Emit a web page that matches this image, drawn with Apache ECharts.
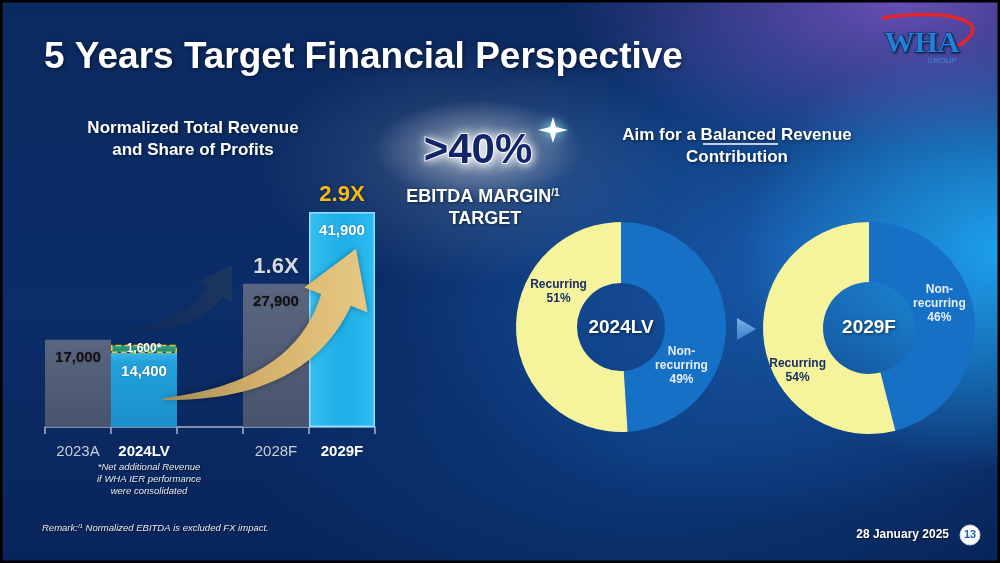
<!DOCTYPE html>
<html><head><meta charset="utf-8">
<script src="https://cdn.jsdelivr.net/npm/echarts/dist/echarts.min.js"></script>
<style>
html,body{margin:0;padding:0;background:#000;}
#wrap{position:relative;width:1000px;height:563px;overflow:hidden;
background:
 radial-gradient(ellipse 105px 50px at 478px 150px, rgba(220,226,232,0.8) 0%, rgba(160,172,190,0.4) 55%, rgba(100,120,150,0) 100%),
 radial-gradient(ellipse 210px 120px at 470px 165px, rgba(120,140,170,0.35), rgba(0,0,0,0) 100%),
 radial-gradient(ellipse 340px 150px at 900px 0px, rgba(120,85,195,0.85), rgba(0,0,0,0) 100%),
 radial-gradient(ellipse 260px 220px at 1000px 250px, rgba(30,165,240,0.95), rgba(0,0,0,0) 100%),
 radial-gradient(ellipse 420px 260px at 800px 260px, rgba(30,110,200,0.7), rgba(0,0,0,0) 100%),
 radial-gradient(ellipse 400px 200px at 650px 450px, rgba(15,75,150,0.5), rgba(0,0,0,0) 100%),
 linear-gradient(180deg, #0b2a60 0%, #0b2d68 55%, #08255a 100%);
}
#chart{width:1000px;height:563px;}
</style></head>
<body><div id="wrap"><div id="chart"></div></div>
<script>
// ---------- data ----------
const categories = ['2023A', '2024LV', '', '2028F', '2029F'];
const baseRevenue = [17000, 14400, null, 27900, 41900];
const additionalRevenue = [null, 1600, null, null, null];
const growthLabels = ['', '', '', '1.6X', '2.9X'];
const pieNames = ['Non-recurring', 'Recurring'];
const pieLabelText = ['Non-\nrecurring', 'Recurring'];
const mix2024LV = [49, 51];
const mix2029F = [46, 54];

// ---------- styles ----------
const FONT = "'Liberation Sans', Arial, sans-serif";
const greyBar = {color: {type:'linear',x:0,y:0,x2:0,y2:1,colorStops:[{offset:0,color:'rgba(98,108,130,0.92)'},{offset:1,color:'rgba(78,88,110,0.92)'}]}};
const cyanBar = {color: {type:'linear',x:0,y:0,x2:0,y2:1,colorStops:[{offset:0,color:'#3db5e8'},{offset:0.12,color:'#22a2dc'},{offset:1,color:'#1b8fcc'}]}};
const brightBar = {color: {type:'linear',x:0,y:0,x2:1,y2:0,colorStops:[{offset:0,color:'#33bff0'},{offset:0.5,color:'#1eaee8'},{offset:1,color:'#2cbcf0'}]}, borderColor:'#8fe0ff', borderWidth:1.5};
const barItemStyles = [greyBar, cyanBar, {}, greyBar, brightBar];
const barLabelColors = ['#111', '#fff', '#fff', '#111', '#fff'];
const growthColors = ['#fff','#fff','#fff','#d3d8e2','#f7b916'];
const pieColors = ['#1570c6', '#f5f39c'];
const pieLabelColors = ['#e6eef9', '#1b2d66'];

const fmt = v => Number(v).toLocaleString('en-US');

const baseData = baseRevenue.map((v,i) => v == null ? '-' : ({
  value: v, itemStyle: barItemStyles[i], label: {color: barLabelColors[i]}
}));
const addData = additionalRevenue.map(v => v == null ? '-' : ({
  value: v,
  itemStyle: {color: {type:'linear',x:0,y:0,x2:0,y2:1,colorStops:[{offset:0,color:'#2aa38a'},{offset:1,color:'#1a8572'}]},
    borderColor:'#f2c41c', borderType:'dashed', borderWidth:1.5}
}));
const growthData = baseRevenue.map((v,i) => growthLabels[i] ? ({value:v, label:{color:growthColors[i]}}) : '-');

// ---------- arrows (decoration) ----------
function curvedArrow(p0, p1, p2, w0, w1, headLen, headHalf) {
  const L = [], R = [], N = 40;
  for (let i = 0; i <= N; i++) {
    const t = i / N;
    const bx = (1-t)*(1-t)*p0[0] + 2*(1-t)*t*p1[0] + t*t*p2[0];
    const by = (1-t)*(1-t)*p0[1] + 2*(1-t)*t*p1[1] + t*t*p2[1];
    let dx = 2*(1-t)*(p1[0]-p0[0]) + 2*t*(p2[0]-p1[0]);
    let dy = 2*(1-t)*(p1[1]-p0[1]) + 2*t*(p2[1]-p1[1]);
    const l = Math.hypot(dx, dy); dx /= l; dy /= l;
    const w = w0 + (w1 - w0) * Math.pow(t, 0.9);
    L.push([bx - dy*w, by + dx*w]);
    R.push([bx + dy*w, by - dx*w]);
  }
  let dx = p2[0]-p1[0], dy = p2[1]-p1[1];
  const l = Math.hypot(dx, dy); dx /= l; dy /= l;
  const tip = [p2[0] + dx*headLen, p2[1] + dy*headLen];
  const hl = [p2[0] - dy*headHalf, p2[1] + dx*headHalf];
  const hr = [p2[0] + dy*headHalf, p2[1] - dx*headHalf];
  return L.concat([hl, tip, hr]).concat(R.reverse());
}
const goldArrow = curvedArrow([163,399],[300,392],[336,300],0.8,16,55,34);
const darkArrow = curvedArrow([112,330],[190,331],[215,292],0.6,9,32,20);

function txt(text, x, y, opts) {
  const o = Object.assign({fontSize:17, fontWeight:'bold', fill:'#fff', align:'center', vAlign:'middle', italic:false}, opts||{});
  return {
    type:'text', z: o.z || 60,
    style: {
      text, x, y, fill:o.fill,
      font: (o.italic?'italic ':'') + o.fontWeight + ' ' + o.fontSize + 'px ' + (o.family||FONT),
      align:o.align, textAlign:o.align, verticalAlign:o.vAlign, textVerticalAlign:o.vAlign,
      lineHeight:o.lineHeight,
      textShadowColor:o.shadow||'rgba(0,0,0,0.55)', textShadowBlur:o.shadowBlur!=null?o.shadowBlur:3,
      textShadowOffsetX:1, textShadowOffsetY:1,
      stroke:o.stroke, lineWidth:o.lineWidth, rich:o.rich
    }
  };
}

const chart = echarts.init(document.getElementById('chart'), null, {renderer:'canvas'});
chart.setOption({
  backgroundColor:'transparent',
  animation:false,
  textStyle:{fontFamily:FONT},
  grid:{left:45, right:625, top:196, bottom:136},
  xAxis:{
    type:'category', data:categories,
    axisLine:{lineStyle:{color:'#a9b3c6', width:1.5}},
    axisTick:{show:true, length:7, lineStyle:{color:'#a9b3c6', width:1.5}},
    axisLabel:{margin:17, interval:0,
      formatter:(v,i)=> (i===1||i===4) ? '{b|'+v+'}' : '{n|'+v+'}',
      rich:{ b:{color:'#fff', fontWeight:'bold', fontSize:15, fontFamily:FONT},
             n:{color:'#c9ced8', fontSize:15, fontFamily:FONT} }}
  },
  yAxis:{type:'value', min:0, max:45000, show:false, splitLine:{show:false}},
  series:[
    {type:'bar', name:'Revenue', stack:'rev', data:baseData, barCategoryGap:'0%', barGap:'-100%', z:3,
      label:{show:true, position:'insideTop', distance:11, fontSize:15, fontWeight:'bold', formatter:p=>fmt(p.value),
        textShadowColor:'rgba(0,0,0,0.35)', textShadowBlur:2}},
    {type:'bar', name:'Additional', stack:'rev', data:addData, barCategoryGap:'0%', barGap:'-100%', z:3,
      label:{show:true, position:'inside', fontSize:12, fontWeight:'bold', color:'#fff', formatter:p=>fmt(p.value)+'*',
        textShadowColor:'rgba(0,0,0,0.4)', textShadowBlur:2}},
    {type:'bar', name:'Growth', data:growthData, barCategoryGap:'0%', barGap:'-100%', z:2, silent:true,
      itemStyle:{color:'rgba(0,0,0,0)'},
      label:{show:true, position:'top', distance:6, fontSize:22, fontWeight:'bold',
        formatter:p=>growthLabels[p.dataIndex], textShadowColor:'rgba(0,0,0,0.5)', textShadowBlur:3}
    },
    {type:'pie', center:[621,327], radius:[44,105], startAngle:90, clockwise:true, silent:true,
      data:pieNames.map((n,i)=>({name:n, value:mix2024LV[i], itemStyle:{color:pieColors[i]}, label:{color:pieLabelColors[i]}})),
      label:{show:true, position:'inside', fontSize:12, fontWeight:'bold', lineHeight:14, align:'center',
        formatter:p=>pieLabelText[p.dataIndex]+'\n'+p.value+'%'},
      labelLine:{show:false},
      labelLayout:p=>[{dx:-17,dy:41},{dx:15,dy:-38}][p.dataIndex]
    },
    {type:'pie', center:[869,328], radius:[46,106], startAngle:90, clockwise:true, silent:true,
      data:pieNames.map((n,i)=>({name:n, value:mix2029F[i], itemStyle:{color:pieColors[i]}, label:{color:pieLabelColors[i]}})),
      label:{show:true, position:'inside', fontSize:12, fontWeight:'bold', lineHeight:14, align:'center',
        formatter:p=>pieLabelText[p.dataIndex]+'\n'+p.value+'%'},
      labelLine:{show:false},
      labelLayout:p=>[{dx:-8,dy:-14},{dx:7,dy:33}][p.dataIndex]
    }
  ],
  graphic:{elements:[
    // frame
    {type:'rect', z:100, shape:{x:1,y:1,width:998,height:561}, style:{fill:'none', stroke:'#000', lineWidth:3}},
    // arrows
    {type:'polygon', z:1, shape:{points:darkArrow}, style:{fill:{type:'linear',global:true,x:112,y:0,x2:235,y2:0,
      colorStops:[{offset:0,color:'rgba(20,40,75,0)'},{offset:0.5,color:'rgba(25,48,88,0.75)'},{offset:1,color:'rgba(30,55,98,0.95)'}]}}},
    {type:'polygon', z:50, shape:{points:goldArrow}, style:{fill:{type:'linear',global:true,x:163,y:0,x2:370,y2:0,
      colorStops:[{offset:0,color:'#a08a57'},{offset:0.45,color:'#d3b06a'},{offset:1,color:'#e7c983'}]},
      shadowBlur:6, shadowColor:'rgba(0,0,0,0.35)'}},
    // title
    txt('5 Years Target Financial Perspective', 44, 58, {fontSize:37, align:'left', shadowBlur:4}),
    txt('Normalized Total Revenue\nand Share of Profits', 193, 139, {fontSize:17, lineHeight:22}),
    // >40%
    txt('>40%', 478, 151, {fontSize:42, fill:'#13266a', stroke:'rgba(255,255,255,0.9)', lineWidth:2, shadow:'rgba(255,255,255,0.9)', shadowBlur:8}),
    {type:'polygon', z:60, shape:{points:[[553,117],[556,127],[568,130],[556,133],[553,143],[550,133],[538,130],[550,127]]},
      style:{fill:'#ffffff', shadowBlur:12, shadowColor:'#9ff'}},
    txt('{a|EBITDA MARGIN}{s|/1}', 483, 197, {fontSize:18, rich:{a:{fontSize:18, fontWeight:'bold', fill:'#fff', fontFamily:FONT}, s:{fontSize:10, fontWeight:'bold', fill:'#fff', verticalAlign:'top', fontFamily:FONT}}}),
    txt('TARGET', 485, 219, {fontSize:18}),
    // right heading
    txt('Aim for a Balanced Revenue\nContribution', 737, 146, {fontSize:17, lineHeight:22}),
    {type:'line', z:60, shape:{x1:703,y1:144,x2:778,y2:144}, style:{stroke:'#fff', lineWidth:1.5}},
    // pie centres
    txt('2024LV', 621, 328, {fontSize:19}),
    txt('2029F', 869, 328, {fontSize:19}),
    {type:'polygon', z:60, shape:{points:[[737,318],[756,329],[737,340]]},
      style:{fill:{type:'linear',global:true,x:737,y:318,x2:737,y2:340,colorStops:[{offset:0,color:'#7ab2ea'},{offset:1,color:'#3a7fcc'}]}}},
    // footnotes
    txt('*Net additional Revenue\nif WHA IER performance\nwere consolidated', 149, 479, {fontSize:9.5, fontWeight:'normal', italic:true, lineHeight:12, fill:'#e6ebf3', shadowBlur:1}),
    txt('{r|Remark:}{s|/1}{r| Normalized EBITDA is excluded FX impact.}', 42, 528, {fontSize:9.5, fontWeight:'normal', italic:true, align:'left', fill:'#e6ebf3', shadowBlur:1,
      rich:{r:{fontSize:9.5, fontStyle:'italic', fill:'#e6ebf3', fontFamily:FONT}, s:{fontSize:6, fontStyle:'italic', fill:'#e6ebf3', verticalAlign:'top', fontFamily:FONT}}}),
    txt('28 January 2025', 949, 535, {fontSize:12, align:'right', shadowBlur:1}),
    {type:'circle', z:60, shape:{cx:970, cy:535, r:10}, style:{fill:'#fff', stroke:'#c9d6ea', lineWidth:1}},
    txt('13', 970, 535, {fontSize:11, fill:'#1d5fb3', shadowBlur:0, shadow:'rgba(0,0,0,0)'}),
    // logo
    {type:'bezierCurve', z:60, shape:{x1:882,y1:18,cpx1:945,cpy1:8,cpx2:1000,cpy2:20,x2:958,y2:46}, style:{stroke:'#e3262b', lineWidth:3.5, fill:'none'}},
    txt('WHA', 922, 44, {fontSize:30, fill:'#1f82d6', stroke:'#0c2c6a', lineWidth:1, family:"'Liberation Serif', 'DejaVu Serif', serif", shadowBlur:2, shadow:'rgba(0,0,0,0.5)'}),
    txt('GROUP', 942, 61, {fontSize:8, fontWeight:'normal', fill:'#3f8ad6', shadowBlur:0})
  ]}
});
</script>
</body></html>
